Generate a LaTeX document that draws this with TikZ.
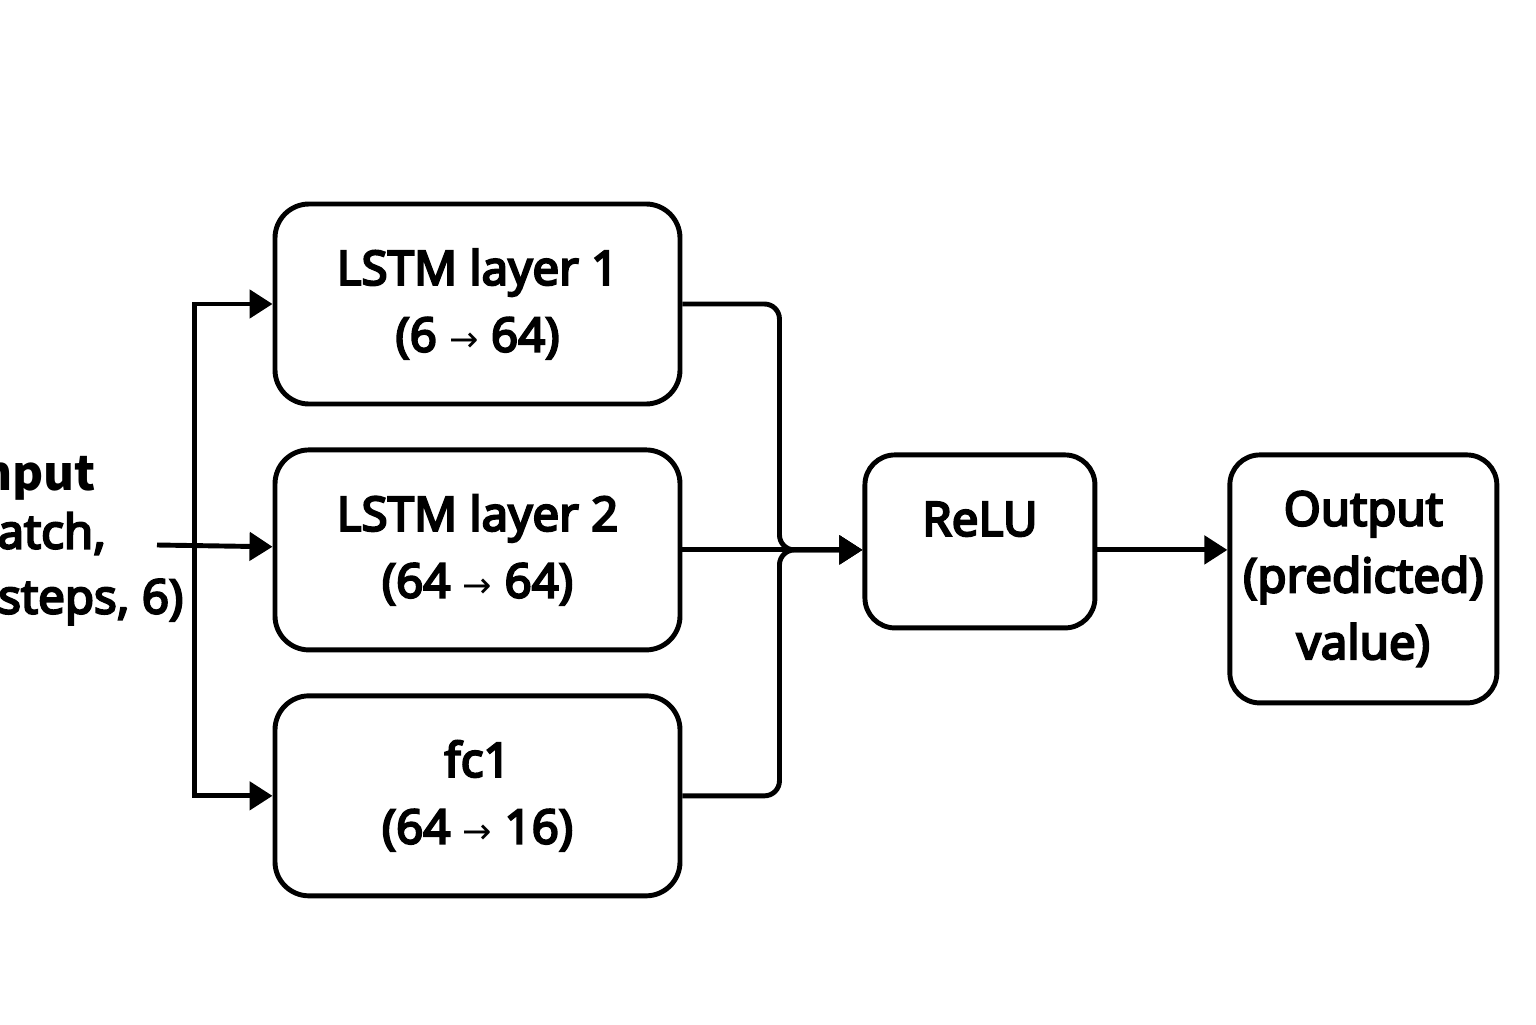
\documentclass[tikz,border=0pt]{standalone}
\usepackage{fontspec}
\setmainfont{Noto Sans}[UprightFeatures={FakeBold=4.5}]
\newfontfamily\cjkfont{Noto Sans CJK KR}
\newfontfamily\arrowfont{DejaVu Sans}
\newcommand\arr{{\arrowfont\fontsize{10}{10}\selectfont →}}
\usetikzlibrary{arrows.meta,positioning}

\begin{document}
\begin{tikzpicture}[
  font=\fontsize{13.5}{19}\selectfont,
  box/.style={draw,rounded corners=3.4mm,line width=1.4pt,
    minimum width=4.05cm,minimum height=2.0cm,align=center,inner sep=4pt},
  flow/.style={-{Triangle[length=2.3mm,width=2.8mm]},line width=1.4pt},
  node distance=4.1mm and 1.80cm]
\useasboundingbox (0,0) rectangle (15.36,10.24);
\clip (0,0) rectangle (15.36,10.24);
\node[box] (lstm1) at (4.775,7.20) {LSTM layer 1\\(6 \arr{} 64)};
\node[box,below=of lstm1] (lstm2) {LSTM layer 2\\(64 \arr{} 64)};
\node[box,below=of lstm2] (fc1) {fc1\\(64 \arr{} 16)};
\node[box,right=of lstm2,yshift=.085cm,minimum width=2.3cm,minimum height=1.73cm,
  rounded corners=3mm,text depth=.45cm] (relu) {ReLU};
\node[box,right=1.30cm of relu,yshift=-.375cm,minimum width=2.67cm,minimum height=2.48cm,
  rounded corners=3mm,inner sep=1pt] (output) {Output\\(predicted)\\value)};
\node[align=center,font=\fontsize{13.5}{18.5}\selectfont] (input) at (0.30,4.84)
  {{\cjkfont\bfseries Input}\\[-2pt](batch,\\time\_steps, 6)};
\coordinate (in) at (1.57,4.79);
\coordinate[left=.78cm of lstm2.west] (split);
\coordinate[right=.97cm of lstm2.east] (merge);
\draw[flow] (in) -- (lstm2);
\draw[flow] (split) |- (lstm1);
\draw[flow] (split) |- (fc1);
\draw[flow] (lstm2.east) -- (lstm2.east -| relu.west);
\draw[flow,rounded corners=1.5mm] (lstm1.east) -| (merge) -- (merge -| relu.west);
\draw[flow,rounded corners=1.5mm] (fc1.east) -| (merge) -- (merge -| relu.west);
\draw[flow] (lstm2.east -| relu.east) -- (lstm2.east -| output.west);
\end{tikzpicture}
\end{document}
